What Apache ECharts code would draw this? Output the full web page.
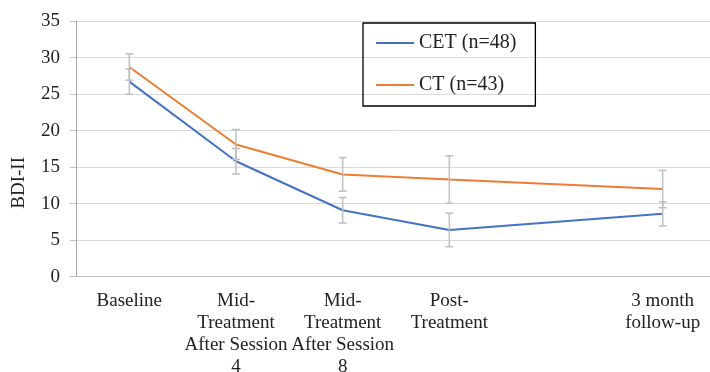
<!DOCTYPE html>
<html>
<head>
<meta charset="utf-8">
<script src="https://cdn.jsdelivr.net/npm/echarts@6/dist/echarts.min.js"></script>
<style>html,body{margin:0;padding:0;background:#fff;}#c{width:710px;height:372px;}</style>
</head>
<body>
<div id="c"></div>
<script>
const categories = ['Baseline', 'Mid-\nTreatment\nAfter Session\n4', 'Mid-\nTreatment\nAfter Session\n8', 'Post-\nTreatment', '', '3 month\nfollow-up'];
const cetValues = [26.7, 15.8, 9.1, 6.4, null, 8.6];
const cetErrors = [1.7, 1.75, 1.75, 2.3, null, 1.65];
const ctValues = [28.7, 18.1, 14.0, 13.3, null, 12.0];
const ctErrors = [1.8, 2.05, 2.3, 3.25, null, 2.55];
const yTicks = [0, 5, 10, 15, 20, 25, 30, 35];

const FONT = 'Liberation Serif';
const chart = echarts.init(document.getElementById('c'));

function errData(vals, errs) {
  const out = [];
  vals.forEach((v, i) => { if (v != null) out.push([i, v - errs[i], v + errs[i]]); });
  return out;
}
function errRender(params, api) {
  const i = api.value(0);
  const lo = api.coord([i, api.value(1)]);
  const hi = api.coord([i, api.value(2)]);
  const w = 4;
  const st = { stroke: '#bfbfbf', lineWidth: 1.5 };
  return {
    type: 'group',
    children: [
      { type: 'line', shape: { x1: lo[0], y1: lo[1], x2: hi[0], y2: hi[1] }, style: st },
      { type: 'line', shape: { x1: lo[0] - w, y1: lo[1], x2: lo[0] + w, y2: lo[1] }, style: st },
      { type: 'line', shape: { x1: hi[0] - w, y1: hi[1], x2: hi[0] + w, y2: hi[1] }, style: st }
    ]
  };
}

chart.setOption({
  animation: false,
  grid: { left: 76, right: -6, top: 21, bottom: 95.3, containLabel: false, outerBoundsMode: 'none' },
  legend: {
    data: ['CET (n=48)', 'CT (n=43)'],
    orient: 'vertical',
    icon: 'rect',
    left: 363, top: 23,
    padding: [10, 19, 11, 13],
    itemGap: 22,
    itemWidth: 38, itemHeight: 2,
    borderColor: '#000', borderWidth: 1.3,
    textStyle: { fontFamily: FONT, fontSize: 20, color: '#222', lineHeight: 20 }
  },
  xAxis: {
    type: 'category',
    data: categories,
    boundaryGap: true,
    axisLine: { lineStyle: { color: '#bfbfbf', width: 1 } },
    axisTick: { alignWithLabel: true, length: 4, lineStyle: { color: '#bfbfbf' } },
    axisLabel: { interval: 0, margin: 13, fontFamily: FONT, fontSize: 19, color: '#222', lineHeight: 22 },
    splitLine: { show: false }
  },
  yAxis: {
    type: 'value',
    min: yTicks[0], max: yTicks[yTicks.length - 1], interval: 5,
    name: 'BDI-II',
    nameLocation: 'middle',
    nameGap: 47,
    nameTextStyle: { fontFamily: FONT, fontSize: 19, color: '#222', padding: [0, 68, 0, 0] },
    axisLine: { show: true, lineStyle: { color: '#a6a6a6', width: 1 } },
    axisTick: { show: true, inside: false, length: 6, lineStyle: { color: '#bfbfbf', width: 1 } },
    axisLabel: { margin: 16, fontFamily: FONT, fontSize: 19, color: '#222' },
    splitLine: { lineStyle: { color: '#d9d9d9', width: 1 } }
  },
  series: [
    { name: 'CET (n=48)', type: 'line', data: cetValues, connectNulls: true, symbol: 'none',
      lineStyle: { color: '#4472C4', width: 2 }, itemStyle: { color: '#4472C4' }, z: 3 },
    { name: 'CT (n=43)', type: 'line', data: ctValues, connectNulls: true, symbol: 'none',
      lineStyle: { color: '#ED7D31', width: 2 }, itemStyle: { color: '#ED7D31' }, z: 3 },
    { name: 'cetErr', type: 'custom', renderItem: errRender, data: errData(cetValues, cetErrors),
      encode: { x: 0, y: [1, 2] }, z: 4, silent: true },
    { name: 'ctErr', type: 'custom', renderItem: errRender, data: errData(ctValues, ctErrors),
      encode: { x: 0, y: [1, 2] }, z: 4, silent: true }
  ]
});
</script>
</body>
</html>
